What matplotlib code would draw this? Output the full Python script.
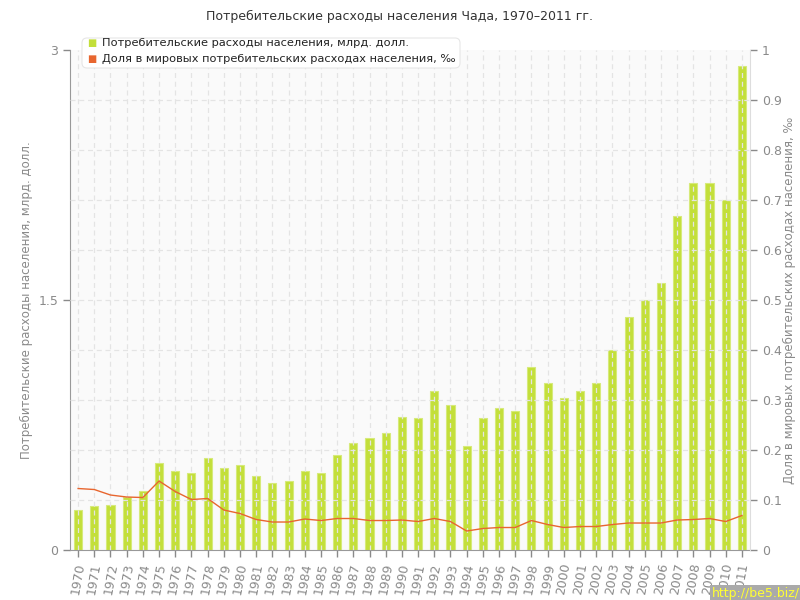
import numpy as np
import matplotlib
matplotlib.use("Agg")
import matplotlib.pyplot as plt
from matplotlib.patches import FancyBboxPatch

# данные
years = [str(y) for y in range(1970, 2012)]
spending = [0.24, 0.264, 0.27, 0.32, 0.354, 0.522, 0.474, 0.462, 0.552, 0.492,
            0.512, 0.442, 0.402, 0.412, 0.472, 0.462, 0.57, 0.642, 0.672, 0.70,
            0.80, 0.79, 0.954, 0.87, 0.624, 0.79, 0.852, 0.834, 1.098, 1.002,
            0.912, 0.954, 1.002, 1.2, 1.398, 1.5, 1.602, 2.004, 2.202, 2.202,
            2.1, 2.904]
share = [0.123, 0.121, 0.11, 0.106, 0.105, 0.138, 0.117, 0.101, 0.103, 0.08,
         0.073, 0.061, 0.056, 0.056, 0.062, 0.059, 0.063, 0.063, 0.059, 0.059,
         0.06, 0.057, 0.063, 0.057, 0.038, 0.043, 0.045, 0.045, 0.059, 0.051,
         0.045, 0.047, 0.047, 0.051, 0.054, 0.054, 0.054, 0.06, 0.061, 0.063,
         0.057, 0.069]

title = "Потребительские расходы населения Чада, 1970–2011 гг."
label_left = "Потребительские расходы населения, млрд. долл."
label_right = "Доля в мировых потребительских расходах населения, ‰"

bar_color = "#c3df3a"
line_color = "#e8662f"
txt = "#8a8a8a"

plt.rcParams['font.family'] = ['DejaVu Sans']
plt.rcParams['font.size'] = 8

fig = plt.figure(figsize=(8, 6), dpi=100)
ax = fig.add_axes([0.0875, 0.0833, 0.85, 0.8334])
ax2 = ax.twinx()

x = np.arange(len(years))
ax.set_facecolor("#fafafa")
ax.bar(x, spending, width=0.5, color=bar_color, edgecolor="#d6ea7a", linewidth=0.8, zorder=2)
ax.set_xlim(-0.5, len(years) - 0.5)
ax.set_ylim(0, 3)
ax.set_yticks([0, 1.5, 3])
ax.set_yticklabels(["0", "1.5", "3"])
ax.set_xticks(x)
ax.set_xticklabels(years, rotation=80, fontsize=9)

# сетка
for xi in x:
    ax.axvline(xi, color="#e4e4e4", lw=0.9, ls=(0, (4, 3)), zorder=3)
for yv in np.arange(0.1, 1.0, 0.1):
    ax2.axhline(yv, color="#e4e4e4", lw=0.9, ls=(0, (4, 3)), zorder=1)

ax2.plot(x, share, color=line_color, lw=1.0, zorder=4)
ax2.set_ylim(0, 1)
ax2.set_yticks(np.arange(0, 1.01, 0.1))
ax2.set_yticklabels(["0"] + ["%.1f" % v for v in np.arange(0.1, 1.0, 0.1)] + ["1"])

for a in (ax, ax2):
    for s in a.spines.values():
        s.set_visible(False)
    a.tick_params(colors=txt, labelcolor=txt, length=5, width=1)
ax.spines['left'].set_visible(True)
ax.spines['left'].set_color("#999999")
ax.spines['bottom'].set_visible(True)
ax.spines['bottom'].set_color("#999999")
ax2.spines['right'].set_visible(True)
ax2.spines['right'].set_color("#dddddd")
ax.tick_params(axis='y', labelsize=9)
ax2.tick_params(axis='y', labelsize=9)

ax.set_ylabel(label_left, color=txt, fontsize=8.5, labelpad=4)
ax2.set_ylabel(label_right, color=txt, fontsize=8.5, labelpad=1)

fig.text(0.5, 0.972, title, ha="center", va="center", fontsize=9, color="#333333")

# легенда
box = FancyBboxPatch((82, 532), 378, 30, boxstyle="round,pad=0,rounding_size=5",
                     transform=None, facecolor="white", edgecolor="#e6e6e6", lw=0.8, zorder=10)
fig.patches.append(box)
leg_items = [(label_left, bar_color), (label_right, line_color)]
for i, (lab, col) in enumerate(leg_items):
    yy = (600 - 43 - i * 16) / 600
    fig.text(92 / 800, yy, "■", color=col, fontsize=7, ha="center", va="center", zorder=11)
    fig.text(102 / 800, yy, lab, color="#222222", fontsize=8.2, ha="left", va="center", zorder=11)

# водяной знак
fig.text(1.0, 0.0, "http://be5.biz/", ha="right", va="bottom", fontsize=9, color="#ffff33",
         bbox=dict(facecolor="#aaaaaa", edgecolor="none", pad=1.5))

fig.savefig("out.png", dpi=100)
plt.close()
